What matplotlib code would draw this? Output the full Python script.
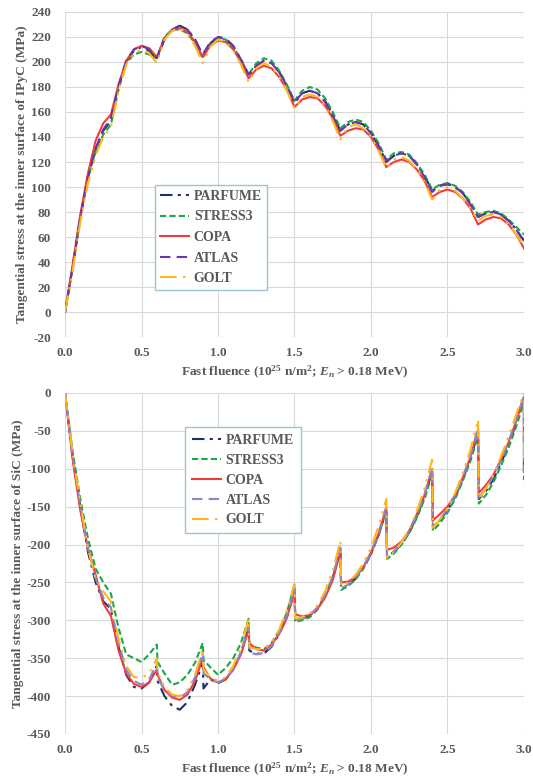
import matplotlib
matplotlib.use("Agg")
import matplotlib.pyplot as plt
from matplotlib.ticker import MultipleLocator, FormatStrFormatter

# ---------------- data ----------------
SERIES = ["PARFUME", "STRESS3", "COPA", "ATLAS", "GOLT"]

X_TOP = [round(0.05 * i, 2) for i in range(61)]

IPYC_PARFUME = [0, 36, 76, 108, 130, 145, 153,
                180, 200, 209, 212, 209, 202,
                218, 226, 229, 226, 218, 205,
                215, 220, 218, 212, 202, 189,
                197, 201, 199, 192, 181, 167,
                175, 177, 175, 169, 158, 145,
                150, 152, 150, 143, 133, 120,
                125, 127, 125, 118, 109, 97,
                101, 103, 100, 95, 87, 76,
                79, 80, 78, 73, 66, 57]
IPYC_STRESS3 = [0, 35, 75, 107, 128, 142, 150,
                178, 199, 206, 208, 206, 203,
                220, 226, 226, 223, 215, 203,
                214, 219, 218, 212, 202, 190,
                199, 203, 201, 193, 182, 169,
                177, 180, 178, 171, 160, 147,
                152, 154, 152, 145, 135, 122,
                127, 128, 126, 119, 110, 98,
                102, 103, 101, 96, 88, 78,
                80, 81, 79, 74, 68, 62]
IPYC_COPA = [0, 38, 78, 111, 137, 151, 158,
             182, 201, 210, 213, 211, 204,
             219, 225, 227, 224, 216, 204,
             213, 217, 216, 210, 200, 187,
             194, 197, 195, 188, 178, 164,
             170, 172, 171, 165, 155, 141,
             145, 147, 146, 140, 130, 116,
             120, 122, 120, 114, 105, 92,
             96, 98, 96, 91, 83, 70,
             74, 76, 75, 70, 62, 51]
IPYC_ATLAS = [0, 36, 76, 108, 131, 146, 155,
              181, 201, 210, 213, 210, 203,
              219, 226, 229, 226, 218, 206,
              216, 220, 219, 213, 202, 190,
              197, 201, 199, 192, 181, 168,
              175, 177, 175, 168, 157, 145,
              150, 152, 150, 143, 133, 121,
              125, 127, 125, 118, 108, 96,
              101, 102, 100, 95, 86, 76,
              79, 80, 78, 73, 66, 56]
IPYC_GOLT = [0, 33, 72, 103, 125, 140, 148,
             177, 198, 207, 210, 207, 199,
             218, 225, 227, 223, 213, 199,
             212, 218, 216, 209, 198, 184,
             195, 199, 196, 188, 177, 163,
             172, 174, 172, 164, 153, 138,
             148, 150, 147, 140, 129, 115,
             122, 124, 121, 114, 104, 90,
             98, 100, 97, 91, 83, 73,
             77, 78, 76, 70, 62, 53]

X_BOT = [0.0, 0.05, 0.1, 0.15, 0.2, 0.25, 0.3, 0.35, 0.4, 0.45, 0.5, 0.55, 0.6,
         0.605, 0.65, 0.7, 0.75, 0.8, 0.85, 0.9,
         0.905, 0.95, 1.0, 1.05, 1.1, 1.15, 1.2,
         1.205, 1.25, 1.3, 1.35, 1.4, 1.45, 1.5,
         1.505, 1.55, 1.6, 1.65, 1.7, 1.75, 1.8,
         1.805, 1.85, 1.9, 1.95, 2.0, 2.05, 2.1,
         2.105, 2.15, 2.2, 2.25, 2.3, 2.35, 2.4,
         2.405, 2.45, 2.5, 2.55, 2.6, 2.65, 2.7,
         2.705, 2.75, 2.8, 2.85, 2.9, 2.95, 3.0,
         3.0]

SIC_PARFUME = [0, -85, -150, -210, -250, -275, -285, -335, -372, -388, -390, -382, -360,
               -380, -400, -413, -418, -408, -385, -355,
               -390, -378, -383, -378, -365, -343, -310,
               -340, -344, -344, -335, -318, -296, -262,
               -300, -298, -294, -284, -268, -244, -208,
               -258, -254, -245, -231, -212, -187, -157,
               -215, -210, -199, -184, -163, -137, -104,
               -177, -168, -155, -137, -114, -87, -53,
               -140, -130, -114, -93, -68, -39, -6,
               -110]
SIC_STRESS3 = [0, -78, -140, -192, -232, -250, -265, -310, -345, -350, -355, -345, -332,
               -355, -370, -385, -382, -372, -356, -330,
               -352, -362, -372, -363, -350, -330, -298,
               -332, -336, -338, -330, -314, -290, -253,
               -302, -300, -296, -286, -268, -244, -205,
               -260, -255, -246, -232, -213, -188, -155,
               -219, -212, -200, -185, -165, -140, -107,
               -182, -172, -158, -140, -116, -90, -57,
               -146, -135, -118, -96, -72, -44, -12,
               -115]
SIC_COPA = [0, -88, -155, -205, -240, -278, -294, -340, -370, -384, -388, -382, -365,
            -372, -392, -402, -405, -398, -380, -350,
            -362, -377, -382, -378, -365, -345, -313,
            -330, -338, -340, -332, -318, -297, -262,
            -292, -295, -293, -285, -270, -247, -210,
            -250, -249, -243, -230, -211, -186, -152,
            -207, -204, -196, -182, -160, -135, -100,
            -168, -160, -150, -135, -112, -85, -48,
            -132, -122, -108, -88, -65, -37, -5,
            -60]
SIC_ATLAS = [0, -84, -148, -205, -245, -270, -283, -330, -365, -380, -385, -378, -357,
             -375, -392, -400, -402, -395, -375, -342,
             -370, -378, -382, -377, -364, -342, -308,
             -342, -345, -343, -334, -316, -293, -258,
             -300, -298, -293, -283, -266, -242, -204,
             -258, -253, -244, -229, -210, -184, -150,
             -215, -209, -198, -182, -160, -134, -98,
             -177, -167, -153, -135, -111, -83, -46,
             -138, -127, -110, -89, -64, -35, -3,
             -105]
SIC_GOLT = [0, -80, -145, -205, -245, -262, -275, -325, -360, -375, -376, -370, -350,
            -368, -388, -398, -400, -392, -372, -338,
            -365, -375, -380, -375, -360, -335, -298,
            -335, -338, -338, -330, -312, -287, -252,
            -298, -296, -291, -280, -262, -235, -195,
            -255, -250, -240, -225, -204, -176, -140,
            -218, -210, -197, -180, -156, -126, -88,
            -178, -167, -152, -132, -106, -75, -35,
            -140, -127, -108, -84, -57, -28, 0,
            -90]

TOP_YLABEL = "Tangential stress at the inner surface of IPyC (MPa)"
BOT_YLABEL = "Tangential stress at the inner surface of SiC (MPa)"
XLABEL = r"Fast fluence (10$^{25}$ n/m$^{2}$; $E_n$ > 0.18 MeV)"

# ---------------- style ----------------
plt.rcParams["font.family"] = ["Liberation Serif", "DejaVu Serif"]
plt.rcParams["font.weight"] = "bold"
plt.rcParams["axes.unicode_minus"] = False
plt.rcParams["mathtext.fontset"] = "custom"
plt.rcParams["mathtext.rm"] = "Liberation Serif:bold"
plt.rcParams["mathtext.it"] = "Liberation Serif:italic:bold"
plt.rcParams["mathtext.bf"] = "Liberation Serif:bold"

GRAY = "#595959"
STYLES_TOP = {
    "PARFUME": dict(color="#1f2f6b", ls=(0, (6, 2.5, 1.5, 2.5))),
    "STRESS3": dict(color="#1aa64a", ls=(0, (3, 1.5))),
    "COPA": dict(color="#f03c3c", ls="-"),
    "ATLAS": dict(color="#6a35a8", ls=(0, (5, 3))),
    "GOLT": dict(color="#ffb81c", ls=(0, (8, 3, 1.2, 3, 1.2, 3))),
}
STYLES_BOT = dict(STYLES_TOP)
STYLES_BOT["ATLAS"] = dict(color="#8a86c8", ls=(0, (5, 3)))

fig = plt.figure(figsize=(5.33, 7.78), dpi=100)
ax1 = fig.add_axes([0.122, 0.5668, 0.861, 0.4178])
ax2 = fig.add_axes([0.122, 0.0566, 0.861, 0.4383])


def style_axes(ax, ylim, ystep, ylabel):
    ax.set_xlim(0, 3.0)
    ax.set_ylim(*ylim)
    ax.xaxis.set_major_locator(MultipleLocator(0.5))
    ax.yaxis.set_major_locator(MultipleLocator(ystep))
    ax.xaxis.set_major_formatter(FormatStrFormatter("%.1f"))
    ax.grid(True, color="#d9d9d9", lw=0.8)
    ax.set_axisbelow(True)
    for s in ax.spines.values():
        s.set_visible(False)
    ax.tick_params(axis="x", length=0, labelsize=9.5, labelcolor=GRAY, pad=7.5)
    ax.tick_params(axis="y", length=0, labelsize=9.5, labelcolor=GRAY, pad=10)
    for lab in ax.get_xticklabels() + ax.get_yticklabels():
        lab.set_fontweight("bold")
    ax.set_xlabel(XLABEL, fontsize=9.6, color=GRAY, fontweight="bold", labelpad=3)
    ax.set_ylabel(ylabel, fontsize=9.6, color=GRAY, fontweight="bold", labelpad=2)


top_data = {"PARFUME": IPYC_PARFUME, "STRESS3": IPYC_STRESS3, "COPA": IPYC_COPA,
            "ATLAS": IPYC_ATLAS, "GOLT": IPYC_GOLT}
bot_data = {"PARFUME": SIC_PARFUME, "STRESS3": SIC_STRESS3, "COPA": SIC_COPA,
            "ATLAS": SIC_ATLAS, "GOLT": SIC_GOLT}

for name in SERIES:
    st = STYLES_TOP[name]
    ax1.plot(X_TOP, top_data[name], color=st["color"], linestyle=st["ls"], lw=1.5, label=name)
    sb = STYLES_BOT[name]
    ax2.plot(X_BOT, bot_data[name], color=sb["color"], linestyle=sb["ls"], lw=1.5, label=name)

style_axes(ax1, (-20, 240), 20, TOP_YLABEL)
style_axes(ax2, (-450, 0), 50, BOT_YLABEL)

for ax, anchor, bpad, lsp in ((ax1, (0.196, 0.468), 0.35, 0.55),
                              (ax2, (0.261, 0.901), 0.5, 0.5)):
    leg = ax.legend(loc="upper left", bbox_to_anchor=anchor, borderaxespad=0,
                    fancybox=False, framealpha=1, edgecolor="#9cc5d2",
                    handlelength=2.1, handletextpad=0.35, borderpad=bpad,
                    labelspacing=lsp,
                    prop={"family": "Liberation Serif", "weight": "bold", "size": 10})
    leg.get_frame().set_linewidth(1.0)
    for t in leg.get_texts():
        t.set_color(GRAY)

fig.savefig("out.png", dpi=100)
